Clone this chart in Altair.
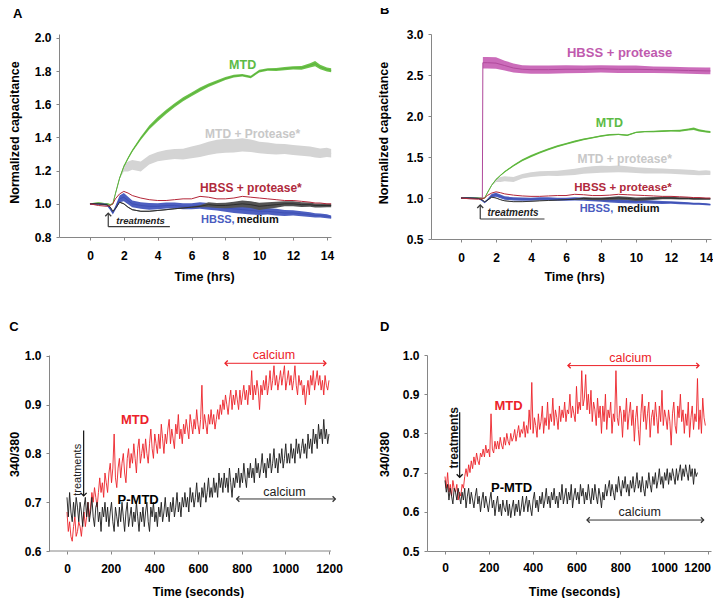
import altair as alt
import pandas as pd

FONT = "Liberation Sans"

# ---------------- Panels A and B : impedance (time in hours) ----------------
t_hrs = [0, 0.5, 1.0, 1.2, 1.35, 1.5, 1.75, 2.0, 2.25, 2.5,
         3.0, 3.5, 4.0, 4.5, 5.0, 5.5, 6.0, 6.5, 7.0, 7.5,
         8.0, 8.5, 9.0, 9.5, 10.0, 10.5, 11.0, 11.5, 12.0, 12.5,
         13.0, 13.3, 13.6, 14.0, 14.25]

mtd_mid = [1.0, 1.005, 1.0, 0.995, 1.0, 1.06, 1.155, 1.225, 1.275, 1.32,
           1.395, 1.46, 1.51, 1.555, 1.595, 1.63, 1.66, 1.69, 1.715, 1.735,
           1.755, 1.77, 1.775, 1.765, 1.80, 1.81, 1.81, 1.815, 1.82, 1.82,
           1.835, 1.845, 1.825, 1.81, 1.805]
mtd_err = [0.004, 0.004, 0.004, 0.004, 0.004, 0.004, 0.005, 0.006, 0.007, 0.008,
           0.01, 0.012, 0.013, 0.013, 0.012, 0.012, 0.012, 0.012, 0.01, 0.01,
           0.009, 0.009, 0.008, 0.008, 0.008, 0.008, 0.009, 0.01, 0.01, 0.011,
           0.013, 0.016, 0.014, 0.012, 0.012]

mtdp_mid = [1.0, 1.0, 1.0, 0.995, 1.0, 1.06, 1.155, 1.215, 1.225, 1.235,
            1.225, 1.265, 1.285, 1.295, 1.30, 1.30, 1.31, 1.32, 1.335, 1.345,
            1.35, 1.35, 1.355, 1.35, 1.34, 1.335, 1.33, 1.33, 1.325, 1.32,
            1.315, 1.31, 1.305, 1.31, 1.305]
mtdp_err = [0.003, 0.003, 0.003, 0.003, 0.003, 0.004, 0.006, 0.02, 0.03, 0.03,
            0.03, 0.028, 0.028, 0.03, 0.03, 0.032, 0.035, 0.038, 0.04, 0.042,
            0.042, 0.04, 0.04, 0.038, 0.035, 0.035, 0.032, 0.03, 0.03, 0.03,
            0.03, 0.03, 0.028, 0.028, 0.026]

hbssp_line = [1.0, 0.99, 0.985, 0.99, 1.0, 1.03, 1.06, 1.075, 1.065, 1.05,
              1.035, 1.025, 1.02, 1.02, 1.025, 1.03, 1.03, 1.045, 1.04, 1.03,
              1.03, 1.035, 1.045, 1.04, 1.035, 1.03, 1.025, 1.02, 1.02, 1.015,
              1.01, 1.005, 1.005, 1.0, 1.0]

hbss_mid = [1.0, 1.0, 0.995, 0.97, 0.945, 0.975, 1.03, 1.04, 1.02, 1.0,
            0.99, 0.985, 0.985, 0.99, 0.99, 0.985, 0.985, 0.99, 0.985, 0.98,
            0.975, 0.97, 0.965, 0.96, 0.955, 0.955, 0.95, 0.945, 0.945, 0.94,
            0.935, 0.93, 0.93, 0.925, 0.92]
hbss_err = [0.005, 0.005, 0.006, 0.008, 0.01, 0.012, 0.02, 0.025, 0.022, 0.02,
            0.02, 0.02, 0.018, 0.018, 0.018, 0.018, 0.018, 0.02, 0.02, 0.02,
            0.022, 0.025, 0.025, 0.025, 0.022, 0.02, 0.02, 0.018, 0.016, 0.015,
            0.014, 0.013, 0.012, 0.012, 0.01]

med_mid = [1.0, 1.0, 0.995, 0.98, 0.955, 0.97, 1.01, 1.0, 0.98, 0.965,
           0.955, 0.955, 0.96, 0.965, 0.97, 0.975, 0.98, 0.985, 0.995, 0.99,
           0.99, 0.995, 1.0, 0.995, 0.985, 0.99, 0.995, 1.0, 1.0, 0.995,
           0.995, 0.99, 0.99, 0.99, 0.99]
med_err = [0.003, 0.003, 0.003, 0.003, 0.003, 0.003, 0.003, 0.003, 0.003, 0.003,
           0.003, 0.003, 0.003, 0.003, 0.003, 0.003, 0.003, 0.006, 0.015, 0.015,
           0.016, 0.018, 0.02, 0.02, 0.022, 0.02, 0.018, 0.015, 0.015, 0.014,
           0.013, 0.012, 0.012, 0.01, 0.01]

t_mag = [0, 0.5, 1.0, 1.22, 1.25, 1.5, 2.0, 2.5, 3.0, 3.5, 4.0,
         5.0, 6.0, 7.0, 8.0, 9.0, 10.0, 11.0, 12.0, 13.0, 14.0, 14.25]
mag_mid = [1.0, 1.0, 1.0, 1.0, 2.65, 2.65, 2.645, 2.615, 2.585, 2.57, 2.565,
           2.565, 2.57, 2.57, 2.575, 2.57, 2.57, 2.565, 2.56, 2.555, 2.55, 2.55]
mag_err = [0.005, 0.005, 0.005, 0.005, 0.07, 0.07, 0.07, 0.06, 0.055, 0.05, 0.05,
           0.05, 0.05, 0.045, 0.045, 0.045, 0.045, 0.04, 0.04, 0.04, 0.04, 0.04]

# ---------------- Panels C and D : 340/380 ratio (sampled every 6 s) ----------------
t_c = list(range(0, 1201, 6))
c_mtd = [0.68, 0.64, 0.66, 0.63, 0.62, 0.65, 0.67, 0.63, 0.64, 0.66,
         0.65, 0.63, 0.66, 0.68, 0.65, 0.67, 0.70, 0.67, 0.69, 0.72,
         0.70, 0.73, 0.71, 0.69, 0.72, 0.75, 0.72, 0.74, 0.71, 0.76,
         0.74, 0.72, 0.76, 0.78, 0.74, 0.77, 0.84, 0.75, 0.73, 0.77,
         0.79, 0.75, 0.78, 0.80, 0.76, 0.74, 0.79, 0.81, 0.77, 0.80,
         0.78, 0.82, 0.79, 0.76, 0.81, 0.83, 0.78, 0.80, 0.82, 0.79,
         0.83, 0.80, 0.78, 0.82, 0.85, 0.81, 0.79, 0.84, 0.82, 0.80,
         0.84, 0.81, 0.86, 0.83, 0.80, 0.84, 0.82, 0.85, 0.87, 0.82,
         0.85, 0.83, 0.81, 0.86, 0.84, 0.88, 0.83, 0.85, 0.82, 0.86,
         0.84, 0.87, 0.85, 0.83, 0.88, 0.86, 0.84, 0.87, 0.85, 0.89,
         0.86, 0.84, 0.87, 0.94, 0.85, 0.88, 0.86, 0.84, 0.88, 0.86,
         0.89, 0.86, 0.88, 0.85, 0.87, 0.89, 0.87, 0.90, 0.88, 0.91,
         0.89, 0.92, 0.90, 0.88, 0.91, 0.93, 0.89, 0.92, 0.90, 0.93,
         0.91, 0.89, 0.93, 0.90, 0.92, 0.94, 0.91, 0.93, 0.90, 0.94,
         0.92, 0.97, 0.91, 0.94, 0.92, 0.95, 0.93, 0.89, 0.94, 0.92,
         0.95, 0.93, 0.96, 0.92, 0.94, 0.97, 0.93, 0.95, 0.98, 0.94,
         0.96, 0.93, 0.95, 0.97, 0.94, 0.96, 0.98, 0.93, 0.95, 0.97,
         0.94, 0.96, 0.93, 0.95, 0.98, 0.94, 0.92, 0.96, 0.94, 0.95,
         0.92, 0.94, 0.90, 0.93, 0.95, 0.92, 0.96, 0.94, 0.97, 0.93,
         0.95, 0.97, 0.94, 0.96, 0.93, 0.95, 0.92, 0.96, 0.94, 0.93,
         0.95]
c_pmtd = [0.71, 0.67, 0.72, 0.68, 0.66, 0.70, 0.67, 0.71, 0.69, 0.66,
          0.70, 0.68, 0.65, 0.69, 0.71, 0.67, 0.70, 0.66, 0.68, 0.71,
          0.67, 0.65, 0.69, 0.70, 0.66, 0.68, 0.64, 0.69, 0.67, 0.70,
          0.66, 0.69, 0.65, 0.68, 0.70, 0.66, 0.64, 0.69, 0.67, 0.65,
          0.69, 0.66, 0.70, 0.67, 0.64, 0.68, 0.70, 0.65, 0.67, 0.69,
          0.65, 0.68, 0.66, 0.70, 0.67, 0.64, 0.68, 0.66, 0.69, 0.65,
          0.68, 0.70, 0.66, 0.64, 0.69, 0.67, 0.70, 0.66, 0.68, 0.65,
          0.69, 0.67, 0.70, 0.66, 0.68, 0.71, 0.67, 0.69, 0.66, 0.70,
          0.68, 0.71, 0.67, 0.69, 0.72, 0.68, 0.70, 0.67, 0.71, 0.69,
          0.72, 0.69, 0.71, 0.68, 0.73, 0.70, 0.72, 0.69, 0.71, 0.74,
          0.70, 0.72, 0.69, 0.73, 0.71, 0.74, 0.70, 0.72, 0.75, 0.71,
          0.73, 0.71, 0.75, 0.72, 0.74, 0.71, 0.76, 0.73, 0.75, 0.72,
          0.76, 0.73, 0.75, 0.72, 0.77, 0.74, 0.71, 0.75, 0.73, 0.76,
          0.74, 0.77, 0.73, 0.76, 0.74, 0.78, 0.75, 0.73, 0.77, 0.75,
          0.78, 0.75, 0.77, 0.74, 0.79, 0.76, 0.78, 0.75, 0.77, 0.80,
          0.76, 0.78, 0.75, 0.79, 0.77, 0.80, 0.76, 0.78, 0.81, 0.77,
          0.79, 0.76, 0.80, 0.78, 0.81, 0.77, 0.79, 0.82, 0.78, 0.80,
          0.78, 0.82, 0.79, 0.81, 0.78, 0.83, 0.80, 0.82, 0.79, 0.81,
          0.83, 0.80, 0.82, 0.79, 0.84, 0.81, 0.83, 0.80, 0.85, 0.82,
          0.84, 0.81, 0.86, 0.83, 0.85, 0.82, 0.87, 0.83, 0.85, 0.82,
          0.84]

t_d_mtd = list(range(0, 1189, 6))
d_mtd = [0.69, 0.66, 0.70, 0.65, 0.67, 0.64, 0.68, 0.66, 0.65, 0.67,
         0.63, 0.65, 0.64, 0.67, 0.66, 0.69, 0.71, 0.69, 0.72, 0.70,
         0.73, 0.71, 0.74, 0.72, 0.75, 0.73, 0.72, 0.75, 0.74, 0.76,
         0.74, 0.77, 0.75, 0.76, 0.74, 0.85, 0.76, 0.75, 0.78, 0.76,
         0.78, 0.76, 0.79, 0.77, 0.76, 0.79, 0.77, 0.80, 0.78, 0.77,
         0.80, 0.78, 0.79, 0.81, 0.78, 0.80, 0.82, 0.79, 0.81, 0.80,
         0.83, 0.79, 0.82, 0.80, 0.86, 0.81, 0.93, 0.80, 0.84, 0.82,
         0.79, 0.85, 0.81, 0.83, 0.87, 0.80, 0.84, 0.82, 0.88, 0.81,
         0.85, 0.83, 0.89, 0.82, 0.86, 0.84, 0.81, 0.87, 0.83, 0.86,
         0.84, 0.88, 0.83, 0.86, 0.85, 0.90, 0.84, 0.87, 0.85, 0.83,
         0.92, 0.85, 0.88, 0.86, 0.96, 0.87, 0.89, 0.95, 0.86, 0.90,
         0.85, 0.91, 0.83, 0.88, 0.86, 0.82, 0.89, 0.84, 0.87, 0.80,
         0.87, 0.83, 0.90, 0.81, 0.86, 0.84, 0.88, 0.80, 0.85, 0.83,
         0.96, 0.84, 0.82, 0.87, 0.85, 0.79, 0.86, 0.83, 0.89, 0.81,
         0.85, 0.88, 0.82, 0.86, 0.78, 0.84, 0.87, 0.81, 0.77, 0.85,
         0.90, 0.83, 0.87, 0.81, 0.85, 0.88, 0.79, 0.84, 0.86, 0.82,
         0.88, 0.84, 0.80, 0.87, 0.83, 0.91, 0.82, 0.86, 0.84, 0.81,
         0.86, 0.83, 0.77, 0.85, 0.88, 0.82, 0.80, 0.87, 0.84, 0.90,
         0.83, 0.86, 0.80, 0.85, 0.82, 0.88, 0.79, 0.84, 0.87, 0.81,
         0.85, 0.83, 0.94, 0.81, 0.86, 0.80, 0.89, 0.84, 0.82]
t_d_pmtd = list(range(0, 1153, 6))
d_pmtd = [0.68, 0.65, 0.67, 0.63, 0.66, 0.64, 0.62, 0.66, 0.65, 0.63,
          0.66, 0.64, 0.62, 0.65, 0.63, 0.66, 0.61, 0.64, 0.66, 0.62,
          0.65, 0.63, 0.61, 0.64, 0.66, 0.62, 0.64, 0.60, 0.63, 0.65,
          0.61, 0.64, 0.62, 0.60, 0.63, 0.65, 0.61, 0.63, 0.59, 0.62,
          0.64, 0.60, 0.62, 0.59, 0.63, 0.61, 0.60, 0.63, 0.59, 0.62,
          0.585, 0.61, 0.63, 0.59, 0.62, 0.60, 0.63, 0.59, 0.61, 0.64,
          0.60, 0.62, 0.64, 0.60, 0.63, 0.61, 0.59, 0.63, 0.65, 0.61,
          0.63, 0.60, 0.64, 0.62, 0.65, 0.61, 0.63, 0.66, 0.62, 0.64,
          0.61, 0.65, 0.63, 0.66, 0.62, 0.64, 0.61, 0.65, 0.63, 0.67,
          0.62, 0.64, 0.66, 0.62, 0.65, 0.63, 0.67, 0.61, 0.64, 0.66,
          0.63, 0.65, 0.62, 0.67, 0.64, 0.66, 0.62, 0.65, 0.63, 0.67,
          0.64, 0.62, 0.66, 0.63, 0.67, 0.64, 0.62, 0.66, 0.64, 0.61,
          0.65, 0.63, 0.67, 0.64, 0.66, 0.68, 0.64, 0.67, 0.65, 0.63,
          0.67, 0.65, 0.69, 0.66, 0.64, 0.68, 0.66, 0.69, 0.65, 0.67,
          0.64, 0.68, 0.66, 0.69, 0.65, 0.67, 0.70, 0.66, 0.68, 0.65,
          0.69, 0.66, 0.64, 0.68, 0.66, 0.70, 0.67, 0.65, 0.69, 0.67,
          0.70, 0.66, 0.68, 0.71, 0.67, 0.69, 0.66, 0.70, 0.68, 0.71,
          0.67, 0.70, 0.68, 0.71, 0.69, 0.67, 0.71, 0.68, 0.70, 0.72,
          0.68, 0.71, 0.69, 0.72, 0.70, 0.68, 0.72, 0.69, 0.71, 0.67,
          0.71, 0.69, 0.70]

# ---------------- colours ----------------
GREEN, GREEN_L = "#6cc24a", "#5cb33d"
GRAY = "#d4d4d4"
BLUE, BLUE_L = "#4d5fc0", "#3f51b5"
DARK, DARK_L = "#545454", "#2a2a2a"
CRIMSON = "#b32638"
MAGENTA, MAGENTA_L = "#cb6cba", "#b04a9c"
RED = "#ec2229"
AXC = "#868686"

UP = "M-1,1L0,0L1,1"
DOWN = "M-1,-1L0,0L1,-1"
LEFT = "M1,-1L0,0L1,1"
RIGHT = "M-1,-1L0,0L-1,1"


def encoders(xdom, xticks, xtitle, xtx, xty, xpad, ydom, yticks, ytitle, ytx, yty,
             xflush=None, yoffset=0, xdomain_line=True):
    def X(field):
        ax = dict(values=xticks, title=xtitle, titleX=xtx, titleY=xty, labelPadding=xpad,
                  format="d", domain=xdomain_line)
        if xflush is not None:
            ax["labelFlush"] = xflush
            ax["labelFlushOffset"] = 2.5
        return alt.X(field + ":Q", scale=alt.Scale(domain=xdom, nice=False, zero=False), axis=alt.Axis(**ax))

    def Y(field):
        return alt.Y(field + ":Q", scale=alt.Scale(domain=ydom, nice=False, zero=False),
                     axis=alt.Axis(values=yticks, title=ytitle, titleX=ytx, titleY=yty,
                                   labelPadding=5, format=".1f", offset=yoffset))
    return X, Y


def band(t, mid, err, X, Y, fill, line_color, lw=1.0):
    df = pd.DataFrame({"t": t, "mid": mid,
                       "lo": [m - e for m, e in zip(mid, err)],
                       "hi": [m + e for m, e in zip(mid, err)]})
    a = alt.Chart(df).mark_area(color=fill, opacity=1).encode(x=X("t"), y=Y("lo"), y2="hi:Q")
    l = alt.Chart(df).mark_line(color=line_color, strokeWidth=lw).encode(x=X("t"), y=Y("mid"))
    return [a, l]


def line(t, v, X, Y, color, lw=1.0):
    df = pd.DataFrame({"t": t, "v": v})
    return alt.Chart(df).mark_line(color=color, strokeWidth=lw).encode(x=X("t"), y=Y("v"))


def segs(rows, X, Y, color, lw=1.2):
    df = pd.DataFrame(rows, columns=["x", "x2", "y", "y2"])
    return alt.Chart(df).mark_rule(color=color, strokeWidth=lw).encode(x=X("x"), x2="x2:Q", y=Y("y"), y2="y2:Q")


def head(x, y, shape, X, Y, color, size=36):
    df = pd.DataFrame({"x": [x], "y": [y]})
    return alt.Chart(df).mark_point(shape=shape, size=size, filled=False, strokeWidth=1.3,
                                    color=color, opacity=1).encode(x=X("x"), y=Y("y"))


def text(rows, X, Y, color, size=12, weight="bold", style="normal", align="center", angle=0):
    df = pd.DataFrame(rows, columns=["x", "y", "label"])
    return alt.Chart(df).mark_text(font=FONT, fontSize=size, fontWeight=weight, fontStyle=style,
                                   align=align, baseline="middle", color=color, angle=angle).encode(
        x=X("x"), y=Y("y"), text="label:N")


def ptitle(s, dx, offset):
    return alt.TitleParams(s, anchor="start", frame="group", dx=dx, offset=offset, baseline="top",
                           font=FONT, fontSize=13, fontWeight="bold", color="#000")


hr_ticks = [0, 2, 4, 6, 8, 10, 12, 14]
s_ticks = [0, 200, 400, 600, 800, 1000, 1200]

# ---------------- Panel A ----------------
XA, YA = encoders([-1.83, 14.24], hr_ticks, "Time (hrs)", 145, 33, 10,
                  [0.8, 2.024], [0.8, 1.0, 1.2, 1.4, 1.6, 1.8, 2.0], "Normalized capacitance", -37.5, 98)
layersA = []
layersA += band(t_hrs, mtdp_mid, mtdp_err, XA, YA, GRAY, GRAY)
layersA += band(t_hrs, mtd_mid, mtd_err, XA, YA, GREEN, GREEN_L)
layersA += band(t_hrs, hbss_mid, hbss_err, XA, YA, BLUE, BLUE_L)
layersA += band(t_hrs, med_mid, med_err, XA, YA, DARK, DARK_L, 0.9)
layersA.append(line(t_hrs, hbssp_line, XA, YA, CRIMSON, 1.0))
layersA.append(segs([[1.08, 1.08, 0.862, 0.943], [1.08, 4.72, 0.862, 0.862]], XA, YA, "#3a3a3a"))
layersA.append(head(1.08, 0.943, UP, XA, YA, "#3a3a3a"))
layersA.append(text([[2.99, 0.898, "treatments"]], XA, YA, "#222", size=9.5, style="italic"))
layersA.append(text([[9.02, 1.839, "MTD"]], XA, YA, "#5dbb45", size=12.5))
layersA.append(text([[9.61, 1.423, "MTD + Protease*"]], XA, YA, "#c8c8c8", size=12))
layersA.append(text([[9.51, 1.097, "HBSS + protease*"]], XA, YA, "#b02a3c", size=12))
layersA.append(text([[6.56, 0.902, "HBSS,"]], XA, YA, "#4a5cbf", size=11, align="left"))
layersA.append(text([[11.16, 0.902, "medium"]], XA, YA, "#111", size=11, align="right"))
panelA = alt.layer(*layersA).properties(width=272, height=203, title=ptitle("A", -46, 11))

# ---------------- Panel B ----------------
XB, YB = encoders([-1.714, 14.286], hr_ticks, "Time (hrs)", 143, 31, 10,
                  [0.5, 3.0], [0.5, 1.0, 1.5, 2.0, 2.5, 3.0], "Normalized capacitance", -41, 98.5)
layersB = []
layersB += band(t_mag, mag_mid, mag_err, XB, YB, MAGENTA, MAGENTA_L)
layersB += band(t_hrs, mtdp_mid, mtdp_err, XB, YB, GRAY, GRAY)
layersB += band(t_hrs, mtd_mid, mtd_err, XB, YB, GREEN, GREEN_L)
layersB += band(t_hrs, hbss_mid, hbss_err, XB, YB, BLUE, BLUE_L)
layersB += band(t_hrs, med_mid, med_err, XB, YB, DARK, DARK_L, 0.9)
layersB.append(line(t_hrs, hbssp_line, XB, YB, CRIMSON, 1.0))
layersB.append(segs([[1.10, 1.10, 0.744, 0.915], [1.10, 4.77, 0.744, 0.744]], XB, YB, "#3a3a3a"))
layersB.append(head(1.10, 0.915, UP, XB, YB, "#3a3a3a"))
layersB.append(text([[2.97, 0.82, "treatments"]], XB, YB, "#222", size=10, style="italic"))
layersB.append(text([[9.06, 2.77, "HBSS + protease"]], XB, YB, "#c05aae", size=13))
layersB.append(text([[8.48, 1.915, "MTD"]], XB, YB, "#5dbb45", size=12.5))
layersB.append(text([[9.35, 1.479, "MTD + protease*"]], XB, YB, "#c8c8c8", size=12))
layersB.append(text([[9.26, 1.118, "HBSS + protease*"]], XB, YB, "#b02a3c", size=11.5))
layersB.append(text([[6.78, 0.863, "HBSS,"]], XB, YB, "#4a5cbf", size=11, align="left"))
layersB.append(text([[11.35, 0.863, "medium"]], XB, YB, "#111", size=11, align="right"))
panelB = alt.layer(*layersB).properties(width=280, height=205, title=ptitle("B", -51, 11))

# ---------------- Panel C ----------------
XC, YC = encoders([-36.6, 1209.2], s_ticks, "Time (seconds)", 139, 34, 9,
                  [0.6, 1.002], [0.6, 0.7, 0.8, 0.9, 1.0], "340/380", -28, 99,
                  yoffset=10, xdomain_line=False)
layersC = [
    segs([[-82.4, 1209.2, 0.6, 0.6]], XC, YC, AXC, 1.0),
    line(t_c, c_mtd, XC, YC, RED, 0.9),
    line(t_c, c_pmtd, XC, YC, "#1a1a1a", 0.9),
    segs([[76.3, 76.3, 0.847, 0.713]], XC, YC, "#111"),
    head(76.3, 0.713, DOWN, XC, YC, "#111"),
    text([[51.8, 0.7665, "treatments"]], XC, YC, "#222", size=11, weight="normal", angle=270),
    segs([[723.8, 1186, 0.985, 0.985]], XC, YC, RED, 1.0),
    head(723.8, 0.985, LEFT, XC, YC, RED, 30),
    head(1186, 0.985, RIGHT, XC, YC, RED, 30),
    text([[947.6, 1.001, "calcium"]], XC, YC, RED, size=12.5, weight="normal"),
    segs([[777, 1229, 0.7067, 0.7067]], XC, YC, "#333", 1.0),
    head(777, 0.7067, LEFT, XC, YC, "#333", 30),
    head(1229, 0.7067, RIGHT, XC, YC, "#333", 30),
    text([[995.6, 0.7214, "calcium"]], XC, YC, "#222", size=12.5, weight="normal"),
    text([[312, 0.868, "MTD"]], XC, YC, RED, size=13),
    text([[326, 0.704, "P-MTD"]], XC, YC, "#000", size=13),
]
panelC = alt.layer(*layersC).properties(width=272, height=196, title=ptitle("C", -49.7, 15))

# ---------------- Panel D ----------------
XD, YD = encoders([-82.1, 1213.7], s_ticks, "Time (seconds)", 147, 34, 8,
                  [0.5, 1.0], [0.5, 0.6, 0.7, 0.8, 0.9, 1.0], "340/380", -35.5, 99, xflush=5)
layersD = [
    line(t_d_mtd, d_mtd, XD, YD, RED, 0.9),
    line(t_d_pmtd, d_pmtd, XD, YD, "#1a1a1a", 0.9),
    segs([[67, 67, 0.854, 0.688]], XD, YD, "#111"),
    head(67, 0.688, DOWN, XD, YD, "#111"),
    text([[42, 0.789, "treatments"]], XD, YD, "#111", size=12, weight="bold", angle=270),
    segs([[561, 1159, 0.973, 0.973]], XD, YD, RED, 1.0),
    head(561, 0.973, LEFT, XD, YD, RED, 30),
    head(1159, 0.973, RIGHT, XD, YD, RED, 30),
    text([[846, 0.993, "calcium"]], XD, YD, RED, size=12.5, weight="normal"),
    segs([[648, 1180, 0.579, 0.579]], XD, YD, "#333", 1.0),
    head(648, 0.579, LEFT, XD, YD, "#333", 30),
    head(1180, 0.579, RIGHT, XD, YD, "#333", 30),
    text([[888, 0.60, "calcium"]], XD, YD, "#222", size=12.5, weight="normal"),
    text([[289.7, 0.869, "MTD"]], XD, YD, RED, size=13),
    text([[304, 0.6615, "P-MTD"]], XD, YD, "#000", size=13),
]
panelD = alt.layer(*layersD).properties(width=284, height=196, title=ptitle("D", -47, 15))

top = alt.hconcat(panelA, panelB, spacing=100, bounds="flush")
bottom = alt.hconcat(panelC, panelD, spacing=96, bounds="flush")

chart = alt.vconcat(top, bottom, spacing=38,
                    padding={"top": -4, "left": 0, "right": 0, "bottom": 0}).configure_view(stroke=None).configure_axis(
    domainColor=AXC, tickColor=AXC, tickSize=3, domainWidth=1, tickWidth=1, grid=False,
    labelFont=FONT, labelFontSize=12, labelFontWeight="bold", labelColor="#000",
    titleFont=FONT, titleFontSize=12.5, titleFontWeight="bold", titleColor="#000",
)

chart.save("out.html", embed_options={"renderer": "svg", "actions": False})
